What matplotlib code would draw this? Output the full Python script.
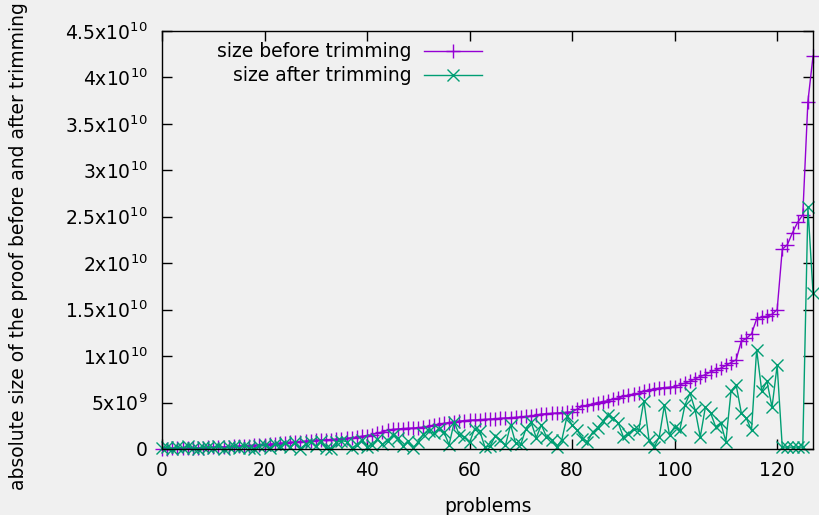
import matplotlib.pyplot as plt
import numpy as np

# proof sizes, in units of 1e9, one value per problem (sorted by size before trimming)
before = [0.02, 0.04, 0.06, 0.08, 0.1, 0.11, 0.12, 0.13, 0.15, 0.16,
          0.18, 0.2, 0.22, 0.25, 0.28, 0.3, 0.33, 0.36, 0.4, 0.43,
          0.47, 0.52, 0.57, 0.62, 0.67, 0.72, 0.77, 0.8, 0.85, 0.9,
          0.95, 0.98, 1.0, 1.02, 1.05, 1.1, 1.15, 1.2, 1.28, 1.35,
          1.45, 1.55, 1.7, 1.85, 2.0, 2.1, 2.15, 2.2, 2.22, 2.25,
          2.3, 2.35, 2.45, 2.55, 2.65, 2.75, 2.85, 2.95, 3.0, 3.05,
          3.1, 3.12, 3.15, 3.18, 3.2, 3.25, 3.3, 3.33, 3.37, 3.4,
          3.45, 3.5, 3.55, 3.65, 3.75, 3.8, 3.83, 3.86, 3.9, 3.95,
          4.0, 4.3, 4.6, 4.7, 4.85, 5.0, 5.1, 5.2, 5.35, 5.5,
          5.65, 5.8, 5.9, 6.0, 6.2, 6.35, 6.45, 6.55, 6.6, 6.65,
          6.7, 6.9, 7.1, 7.3, 7.55, 7.8, 8.0, 8.3, 8.5, 8.7,
          9.0, 9.3, 9.6, 11.6, 11.9, 12.4, 14.0, 14.2, 14.3, 14.5,
          15.0, 21.5, 22.0, 23.3, 24.4, 25.2, 37.4, 42.3]
after = [0.1, 0.2, 0.05, 0.25, 0.1, 0.3, 0.15, 0.05, 0.25, 0.2,
         0.1, 0.3, 0.05, 0.2, 0.3, 0.1, 0.35, 0.15, 0.05, 0.3,
         0.4, 0.1, 0.5, 0.3, 0.6, 0.2, 0.7, 0.05, 0.5, 0.8,
         0.3, 0.9, 0.1, 0.05, 0.7, 0.9, 0.8, 0.1, 0.4, 1.0,
         0.2, 0.4, 1.1, 0.5, 0.9, 1.5, 1.2, 0.3, 0.9, 0.1,
         0.8, 1.6, 1.9, 1.7, 2.2, 1.8, 0.45, 2.9, 1.5, 1.3,
         0.7, 2.2, 1.9, 0.2, 0.3, 1.4, 1.0, 0.4, 2.6, 0.6,
         0.5, 2.2, 2.9, 1.2, 2.6, 1.3, 1.0, 0.2, 1.0, 3.5,
         2.6, 2.0, 1.1, 0.8, 1.8, 2.3, 3.0, 3.7, 3.3, 2.8,
         1.3, 1.6, 2.2, 2.0, 5.2, 1.0, 0.2, 1.3, 4.7, 1.5,
         2.4, 2.0, 4.7, 6.0, 4.2, 1.3, 4.5, 3.9, 2.4, 2.8,
         0.8, 6.2, 6.9, 3.9, 3.3, 2.0, 10.7, 6.2, 7.3, 4.5,
         9.0, 0.2, 0.2, 0.2, 0.2, 0.2, 26.0, 16.8]
problems = np.arange(len(before))

yticks = [0, 5e9, 1e10, 1.5e10, 2e10, 2.5e10, 3e10, 3.5e10, 4e10, 4.5e10]
ytick_labels = ['0', r'5x10$^{9}$', r'1x10$^{10}$', r'1.5x10$^{10}$', r'2x10$^{10}$',
                r'2.5x10$^{10}$', r'3x10$^{10}$', r'3.5x10$^{10}$', r'4x10$^{10}$',
                r'4.5x10$^{10}$']
xticks = [0, 20, 40, 60, 80, 100, 120]

plt.rcParams['mathtext.default'] = 'regular'
fs = 13.5
bg = '#f0f0f0'
fig = plt.figure(figsize=(8.2, 5.15), dpi=100, facecolor=bg)
ax = fig.add_axes([0.1976, 0.1282, 0.7939, 0.8117], facecolor=bg)

ax.plot(problems, np.array(before) * 1e9, color='#9400d3', lw=1, marker='+',
        ms=10, mew=1, clip_on=False, label='size before trimming')
ax.plot(problems, np.array(after) * 1e9, color='#009e73', lw=1, marker='x',
        ms=9, mew=1, clip_on=False, label='size after trimming')

ax.set_xlim(0, 127)
ax.set_ylim(0, 4.5e10)
ax.set_xticks(xticks)
ax.set_yticks(yticks)
ax.set_yticklabels(ytick_labels)
ax.tick_params(direction='in', length=7, width=1, top=True, right=True,
               labelsize=fs)
ax.tick_params(axis='x', pad=9)
ax.tick_params(axis='y', pad=10.5)
for s in ax.spines.values():
    s.set_linewidth(1)

ax.set_xlabel('problems', fontsize=fs, labelpad=12)
ax.set_ylabel('absolute size of the proof before and after trimming', fontsize=fs)
ax.yaxis.set_label_coords(-0.206, 0.485)

ax.legend(loc='upper right', bbox_to_anchor=(0.506, 0.995), frameon=False,
          markerfirst=False, fontsize=fs, handlelength=3.1, handletextpad=0.64,
          labelspacing=0.25, borderpad=0.2, borderaxespad=0.3)

fig.savefig('out.png', dpi=100, facecolor=bg)
